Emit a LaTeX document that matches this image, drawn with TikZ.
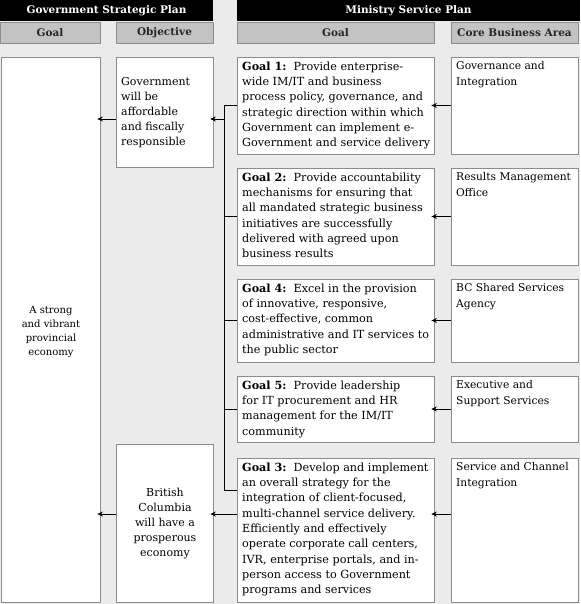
\documentclass[tikz,border=0pt]{standalone}
\usepackage{fontspec}
\setmainfont{DejaVu Serif}
\usetikzlibrary{arrows.meta,fit}
\definecolor{bg}{HTML}{EBEBEB}
\definecolor{hdr}{HTML}{C3C3C3}
\definecolor{edge}{HTML}{8C8C8C}
\begin{document}
\begin{tikzpicture}[x=1pt,y=-1pt,
 box/.style={draw=edge, fill=white, line width=0.7pt, inner sep=0pt},
 hbox/.style={draw=edge, fill=hdr, line width=0.7pt, inner sep=0pt},
 bar/.style={fill=black, inner sep=0pt},
 txt/.style={font=\fontsize{11.2}{15.3}\selectfont, align=left, inner sep=0pt},
 ctxt/.style={font=\fontsize{10.7}{15.3}\selectfont, align=left, inner sep=0pt},
 otxt/.style={font=\fontsize{11}{15}\selectfont, inner sep=0pt},
 ltxt/.style={font=\fontsize{10}{13.7}\selectfont, align=center, inner sep=0pt},
 htxt/.style={font=\fontsize{10.5}{12}\selectfont\bfseries, inner sep=0pt},
 arr/.style={-{Stealth[length=5.5pt,width=5pt]}, line width=0.9pt, shorten >=-3pt},
 ln/.style={line width=0.9pt}]
% background
\fill[bg] (0,0) rectangle (580,604);
\useasboundingbox (0,0) rectangle (580,604);
% title bars
\node[bar, fit={(0,0) (213,21)}] (bar1) {};
\node[htxt, text=white] (bar1t) at (bar1.center) {Government Strategic Plan};
\node[bar, fit={(237,0) (580,21)}] (bar2) {};
\node[htxt, text=white] (bar2t) at (bar2.center) {Ministry Service Plan};
% column headers
\node[hbox, fit={(0,22) (100,43)}] (h1) {};
\node[htxt, text=black!85] (h1t) at (h1.center) {Goal};
\node[hbox, fit={(116,22) (213,43)}] (h2) {};
\node[htxt, text=black!85] (h2t) at (h2.center) {Objective};
\node[hbox, fit={(237,22) (434,43)}] (h3) {};
\node[htxt, text=black!85] (h3t) at (h3.center) {Goal};
\node[hbox, fit={(451,22) (578,43)}] (h4) {};
\node[htxt, text=black!85] (h4t) at (h4.center) {Core Business Area};
% left goal
\node[box, fit={(1,57) (100,602)}] (gl) {};
\node[ltxt] (glt) at (51,332) {A strong\\and vibrant\\provincial\\economy};
% objectives
\node[box, fit={(116,57) (213,167)}] (o1) {};
\node[otxt, align=left, anchor=west] (o1t) at (121,113) {Government\\will be\\affordable\\and fiscally\\responsible};
\node[box, fit={(116,444) (213,602)}] (o2) {};
\node[otxt, align=center] (o2t) at (165,524) {British\\Columbia\\will have a\\prosperous\\economy};
% ministry goals
\node[box, fit={(237,57) (434,154)}] (g1) {};
\node[txt, anchor=north west] (g1t) at (242,61.5) {\textbf{Goal 1:}\ \ Provide enterprise-\\wide IM/IT and business\\process policy, governance, and\\strategic direction within which\\Government can implement e-\\Government and service delivery};
\node[box, fit={(237,168) (434,265)}] (g2) {};
\node[txt, anchor=north west] (g2t) at (242,172.5) {\textbf{Goal 2:}\ \ Provide accountability\\mechanisms for ensuring that\\all mandated strategic business\\initiatives are successfully\\delivered with agreed upon\\business results};
\node[box, fit={(237,279) (434,362)}] (g4) {};
\node[txt, anchor=north west] (g4t) at (242,283.5) {\textbf{Goal 4:}\ \ Excel in the provision\\of innovative, responsive,\\cost-effective, common\\administrative and IT services to\\the public sector};
\node[box, fit={(237,376) (434,442)}] (g5) {};
\node[txt, anchor=north west] (g5t) at (242,380.5) {\textbf{Goal 5:}\ \ Provide leadership\\for IT procurement and HR\\management for the IM/IT\\community};
\node[box, fit={(237,458) (434,602)}] (g3) {};
\node[txt, anchor=north west] (g3t) at (242,462.5) {\textbf{Goal 3:}\ \ Develop and implement\\an overall strategy for the\\integration of client-focused,\\multi-channel service delivery.\\Efficiently and effectively\\operate corporate call centers,\\IVR, enterprise portals, and in-\\person access to Government\\programs and services};
% core business areas
\node[box, fit={(451,57) (578,154)}] (c1) {};
\node[ctxt, anchor=north west] (c1t) at (456,61.5) {Governance and\\Integration};
\node[box, fit={(451,168) (578,265)}] (c2) {};
\node[ctxt, anchor=north west] (c2t) at (456,172.5) {Results Management\\Office};
\node[box, fit={(451,279) (578,362)}] (c4) {};
\node[ctxt, anchor=north west] (c4t) at (456,283.5) {BC Shared Services\\Agency};
\node[box, fit={(451,376) (578,442)}] (c5) {};
\node[ctxt, anchor=north west] (c5t) at (456,380.5) {Executive and\\Support Services};
\node[box, fit={(451,458) (578,602)}] (c3) {};
\node[ctxt, anchor=north west] (c3t) at (456,462.5) {Service and Channel\\Integration};
% bus connector
\coordinate (bt) at (224,105);
\coordinate (j0) at (224,119);
\coordinate (j3) at (224,490);
\coordinate (k3) at (451,514);
\draw[ln] (bt) -- (j3);
\draw[ln] (g1.west) -- (g1.west -| bt);
\draw[ln] (g2.west) -- (g2.west -| bt);
\draw[ln] (g4.west) -- (g4.west -| bt);
\draw[ln] (g5.west) -- (g5.west -| bt);
\draw[ln] (j3) -- (j3 -| g3.west);
% arrows to objectives and left goal
\draw[arr] (j0) -- (j0 -| o1.east);
\draw[arr] (j0 -| o1.west) -- (j0 -| gl.east);
\draw[arr] (k3 -| g3.west) -- (k3 -| o2.east);
\draw[arr] (k3 -| o2.west) -- (k3 -| gl.east);
% arrows from core business areas
\draw[arr] (c1.west) -- (g1.east);
\draw[arr] (c2.west) -- (g2.east);
\draw[arr] (c4.west) -- (g4.east);
\draw[arr] (c5.west) -- (g5.east);
\draw[arr] (k3) -- (k3 -| g3.east);
\end{tikzpicture}
\end{document}
